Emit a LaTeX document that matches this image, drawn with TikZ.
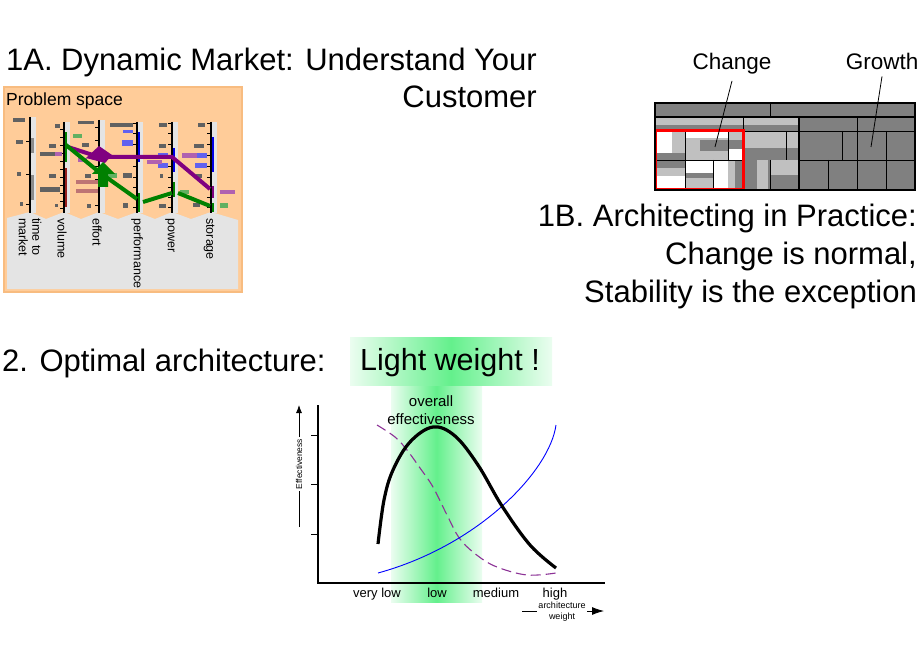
\documentclass[tikz,border=0pt]{standalone}
\usepackage{fontspec}
\setmainfont{Liberation Sans}
\usetikzlibrary{arrows.meta}
\definecolor{orng}{RGB}{255,204,153}
\definecolor{orngb}{RGB}{248,188,128}
\definecolor{lgray}{RGB}{228,228,228}
\definecolor{bgray}{RGB}{128,128,128}
\definecolor{cgray}{RGB}{192,192,192}
\definecolor{grn}{RGB}{0,128,0}
\definecolor{prp}{RGB}{128,0,128}
\definecolor{dprp}{RGB}{140,50,150}
\definecolor{brightg}{RGB}{100,240,140}
\definecolor{paleg}{RGB}{235,253,240}
\definecolor{dred}{RGB}{150,30,30}
\definecolor{bblue}{RGB}{0,0,230}
\begin{document}
\begin{tikzpicture}[x=1pt,y=-1pt,
  title/.style={font=\fontsize{31}{37}\selectfont, inner sep=0pt},
  lbl/.style={font=\fontsize{22.5}{26}\selectfont, inner sep=0pt},
  axlbl/.style={font=\fontsize{12.5}{13.5}\selectfont, inner sep=0pt, rotate=-90, anchor=west, align=left},
  ticklbl/.style={font=\fontsize{13}{15}\selectfont, inner sep=0pt, anchor=base},
  chk/.style={fill=#1!62!white},
  axisline/.style={line width=1.5pt, black},
  cell/.style={line width=0.9pt, black},
]
\useasboundingbox (0,0) rectangle (920,660);

% ---------- 1A ----------
\node[title, anchor=base east] (t1a) at (537,71) {1A. Dynamic Market: Understand Your};
\node[title, anchor=base east] (t1a2) at (537,108) {Customer};

\fill[orng] (4,87) rectangle (242,292);
\draw[orngb, line width=1.5pt] (4,87) rectangle (242,292);
\node[font=\fontsize{17.5}{20}\selectfont, inner sep=0pt, anchor=base west] (ps) at (6,106) {Problem space};

\fill[lgray] (7,218) -- (30,212) -- (46,219) -- (64,212) -- (81,219) -- (99,212) -- (118,219) -- (137,212) -- (155,219) -- (172,212) -- (191,219) -- (211,212) -- (238,220) -- (238,289) -- (7,289) -- cycle;

% bars beside axes
\foreach \x/\t in {30/117,64/122,99/120,137/122,172/122,211/122}{
  \fill[lgray] (\x+1,\t) rectangle (\x+6,213);
}
% coloured segments on bars
\fill[black!45] (31,138) rectangle (34,153);
\fill[black!45] (31,175) rectangle (34,200);
\fill[grn] (65,132) rectangle (67,162);
\fill[dred] (65,168) rectangle (67,207);
\fill[bblue] (138,132) rectangle (140,162);
\fill[grn] (138,193) rectangle (140,212);
\fill[bblue] (173,148) rectangle (175,172);
\fill[grn] (173,182) rectangle (175,197);
\fill[bblue] (212,137) rectangle (214,172);
\fill[prp] (212,186) rectangle (214,198);
\fill[grn] (212,203) rectangle (214,212);

% axes and ticks
\foreach \x/\t in {30/117,64/122,99/120,137/122,172/122,211/122}{
  \draw[axisline] (\x,\t) -- (\x,213);
}
\foreach \y in {142,175,205}{\draw[line width=1pt] (26,\y) -- (30,\y);}
\foreach \y in {130,138,146,154,162,170,178,186,194,202,209}{\draw[line width=1pt] (60,\y) -- (64,\y);}
\foreach \y in {128,141,154,167,180,193,206}{\draw[line width=1pt] (95,\y) -- (99,\y);}
\foreach \y in {124,134,145,156,167,178,188,198,208}{
  \draw[line width=1pt] (133,\y) -- (137,\y);
  \draw[line width=1pt] (168,\y) -- (172,\y);
  \draw[line width=1pt] (207,\y) -- (211,\y);
}

% checkered placeholders
\foreach \a/\b/\c/\d in {13/118/25/122, 16/140/23/144, 17/172/21/176, 20/202/23/206,
  55/124/60/128, 49/144/56/148, 40/152/59/156, 49/174/56/178, 40/187/60/192, 55/204/58/207,
  78/121/94/124, 82/143/89/147, 85/174/91/178, 87/204/91/208,
  110/123/133/127, 123/173/132/178, 123/203/128/208,
  159/123/167/127, 159/144/166/148, 160/174/163/178, 159/204/166/208,
  198/123/205/127, 194/144/204/148, 196/174/202/178, 193/203/200/207}{
  \path[chk=black] (\a,\b) rectangle (\c,\d);
}
\foreach \a/\b/\c/\d in {123/130/133/133, 122/140/133/146, 158/153/168/158, 158/163/168/168, 195/153/207/158, 195/163/207/168}{
  \path[chk=bblue] (\a,\b) rectangle (\c,\d);
}
\foreach \a/\b/\c/\d in {182/153/197/158, 147/160/162/164, 220/190/235/194, 55/152/62/156, 78/158/87/162}{
  \path[chk=prp] (\a,\b) rectangle (\c,\d);
}
\foreach \a/\b/\c/\d in {73/134/82/138, 107/173/117/178, 180/190/189/194, 220/203/228/208}{
  \path[chk=grn] (\a,\b) rectangle (\c,\d);
}
\foreach \a/\b/\c/\d in {76/180/98/184, 76/189/98/193}{
  \path[chk=dred] (\a,\b) rectangle (\c,\d);
}

% data lines
\draw[prp, line width=4pt] (68,147) -- (99,157) -- (138,157) -- (172,157) -- (210,189);
\draw[grn, line width=4pt] (66,145) -- (99,172) -- (137,199);
\draw[grn, line width=4pt] (143,202) -- (172,193);
\draw[grn, line width=4pt] (178,193) -- (210,206);
\fill[prp] (99,146) -- (112,155) -- (105,163) -- (86,158) -- cycle;
\fill[grn] (103,162) -- (115,174) -- (108,174) -- (108,187) -- (98,187) -- (98,174) -- (92,174) -- cycle;

% axis labels
\node[axlbl] (ttm) at (30,218) {time to\\market};
\node[axlbl] (vol) at (62,218) {volume};
\node[axlbl] (eff) at (97,218) {effort};
\node[axlbl] (perf) at (137,218) {performance};
\node[axlbl] (pow) at (170,218) {power};
\node[axlbl] (sto) at (209,218) {storage};

% ---------- 1B ----------
\node[lbl, anchor=base] (change) at (732,70) {Change};
\node[lbl, anchor=base] (growth) at (882,70) {Growth};

\fill[bgray] (655,103) rectangle (915,190);
% left region second row
\fill[cgray] (655,118) rectangle (799,125);
% region right of red box
\fill[cgray] (743,131) rectangle (799,148);
\fill[cgray] (757,160) rectangle (768,190);
\fill[cgray] (770,160) rectangle (799,175);
% red box contents
\fill[white] (655,131) rectangle (685,160);
\fill[cgray] (672,131) rectangle (685,153);
\fill[bgray] (655,153) rectangle (685,160);
\fill[cgray] (685,131) rectangle (728,160);
\fill[white] (685,131) rectangle (728,138);
\fill[bgray] (700,140) rectangle (728,151);
\fill[cgray] (728,131) rectangle (743,140);
\fill[bgray] (728,140) rectangle (743,149);
\fill[white] (728,149) rectangle (743,160);
\fill[bgray] (655,160) rectangle (685,168);
\fill[cgray] (655,168) rectangle (685,176);
\fill[white] (655,176) rectangle (685,190);
\fill[white] (685,160) rectangle (713,173);
\fill[bgray] (685,173) rectangle (713,178);
\fill[cgray] (685,178) rectangle (713,190);
\fill[white] (713,160) rectangle (728,190);
\fill[cgray] (728,160) rectangle (735,190);
% cell lines
\draw[cell] (770,103) -- (770,117);
\draw[cell] (743,117) -- (743,131);
\draw[cell] (743,131) -- (915,131);
\draw[cell] (786,131) -- (786,160);
\draw[cell] (770,160) -- (770,190);
\draw[cell] (685,131) -- (685,190);
\draw[cell] (655,160) -- (743,160);
\draw[cell] (728,131) -- (728,160);
\draw[cell] (713,160) -- (713,190);
\draw[cell] (799,160) -- (915,160);
\draw[cell] (857,117) -- (857,190);
\draw[cell] (842,131) -- (842,160);
\draw[cell] (886,131) -- (886,190);
\draw[cell] (828,160) -- (828,190);
\draw[line width=2.2pt] (655,117) -- (915,117);
\draw[line width=2.2pt] (799,117) -- (799,190);
\draw[red, line width=3pt] (655,131) rectangle (743,190);
\draw[line width=2.2pt] (655,103) rectangle (915,190);

\coordinate (chgend) at (715,147);
\coordinate (grwend) at (871,147);
\draw[line width=0.8pt] (change.south) ++(0,6) -- (chgend);
\draw[line width=0.8pt] (growth.south) ++(0,6) -- (grwend);

\node[title, anchor=base east] (t1b1) at (917,227) {1B. Architecting in Practice:};
\node[title, anchor=base east] (t1b2) at (917,265) {Change is normal,};
\node[title, anchor=base east] (t1b3) at (917,302) {Stability is the exception};

% ---------- 2 ----------
\node[title, anchor=base west] (t2) at (2,371) {2. Optimal architecture:};

\shade[left color=paleg, right color=paleg, middle color=brightg] (391,384) rectangle (482,602);
\shade[left color=paleg, right color=paleg, middle color=brightg] (350,337) rectangle (552,385);
\node[font=\fontsize{30.5}{36}\selectfont, inner sep=0pt, anchor=base] (lw) at (450,370) {Light weight !};

% axes
\coordinate (org) at (318,583);
\coordinate (ytop) at (318,405);
\coordinate (xend) at (605,583);
\draw[line width=1.2pt] (ytop) -- (org) -- (xend);
\foreach \y in {435,484,534}{\draw[line width=1pt] (311,\y) -- (318,\y);}

% curves
\draw[dprp, line width=1.1pt, dash pattern=on 10pt off 5pt] plot[smooth, tension=0.6] coordinates {(377,425) (395,437) (407,450) (420,468) (433,487) (447,515) (460,539) (478,556) (497,567) (527,575) (556,573)};
\draw[blue, line width=0.9pt] (378,573) .. controls (480,545) and (550,470) .. (556,425);
\draw[black, line width=3.2pt] plot[smooth, tension=0.6] coordinates {(378,544) (384,500) (393,470) (410,442) (433,427) (455,436) (478,465) (502,506) (530,545) (556,568)};

\node[font=\fontsize{15}{18}\selectfont, inner sep=0pt, anchor=base] (ov1) at (431,406) {overall};
\node[font=\fontsize{15}{18}\selectfont, inner sep=0pt, anchor=base] (ov2) at (431,424) {effectiveness};

\node[ticklbl] (vlow) at (377,597) {very low};
\node[ticklbl] (low) at (437,597) {low};
\node[ticklbl] (med) at (496,597) {medium};
\node[ticklbl] (high) at (555,597) {high};

% y label
\coordinate (ylo) at (299,527);
\coordinate (yhi) at (299,405);
\node[rotate=90, font=\fontsize{8.5}{10}\selectfont, inner sep=1.5pt] (ylab) at (299,464) {Effectiveness};
\draw[line width=0.8pt] (ylo) -- (ylab.west);
\draw[line width=0.8pt, -{Latex[length=8pt,width=6pt]}] (ylab.east) -- (yhi);

% x label
\coordinate (xlo) at (522,611);
\coordinate (xhi) at (604,611);
\node[font=\fontsize{9}{11}\selectfont, inner sep=1.5pt, align=center] (xlab) at (562,612) {architecture\\weight};
\draw[line width=0.8pt] (xlo) -- (xlab.west |- xlo);
\draw[line width=0.8pt, -{Latex[length=12pt,width=8pt]}] (xlab.east |- xlo) -- (xhi);
\end{tikzpicture}
\end{document}
